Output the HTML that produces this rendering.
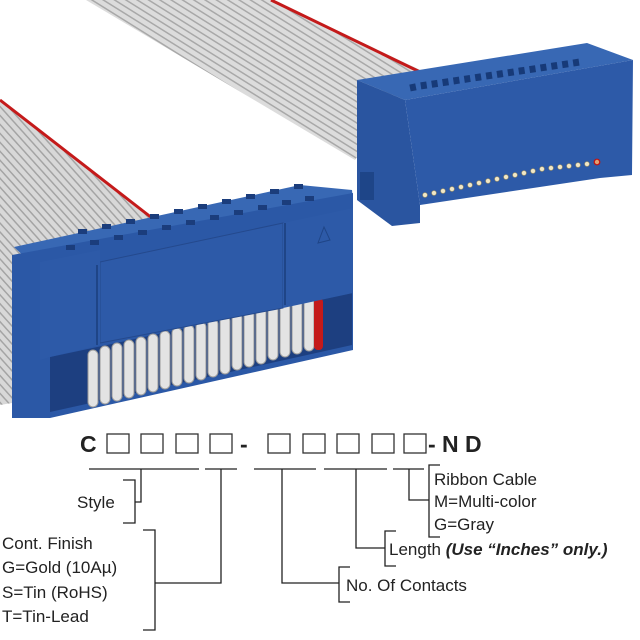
<!DOCTYPE html>
<html><head><meta charset="utf-8"><style>
html,body{margin:0;padding:0;background:#fff;width:640px;height:640px;overflow:hidden}
svg{display:block}
text{font-family:"Liberation Sans",Arial,sans-serif;fill:#222}
</style></head><body>
<svg width="640" height="640" viewBox="0 0 640 640" xmlns="http://www.w3.org/2000/svg">
<defs>
<pattern id="rib" width="6" height="6" patternUnits="userSpaceOnUse" patternTransform="rotate(-58)">
<rect width="6" height="6" fill="#dcdcdc"/><rect width="1.5" height="6" fill="#a8a8a8"/>
</pattern>
<pattern id="rib2" width="6" height="6" patternUnits="userSpaceOnUse" patternTransform="rotate(-42)">
<rect width="6" height="6" fill="#d8d8d8"/><rect width="1.5" height="6" fill="#a4a4a4"/>
</pattern>
</defs>
<!-- top ribbon -->
<polygon points="86,0,273,0,420,70,355,160" fill="url(#rib)"/>
<polyline points="271,0,420,72" stroke="#c41a1a" stroke-width="3" fill="none"/>
<!-- right connector -->
<polygon points="357,80,587,43,633,60,405,100" fill="#3868b4"/>
<polygon points="357,80,405,100,420,205,420,223,392,226,357,200" fill="#2a55a0"/>
<polygon points="405,100,633,60,632,175,600,178,420,205" fill="#2d5aa8"/>
<polyline points="410,88 420,86 440,83 460,80 480,77 500,74 520,71 540,68 560,65 580,62" stroke="#173a78" stroke-width="7" stroke-dasharray="6 5" fill="none"/>
<rect x="360" y="172" width="14" height="28" fill="#1e4588"/>
<g fill="#f1e8c8" stroke="#b09a60" stroke-width="0.6">
<circle cx="425" cy="195" r="2.3"/><circle cx="434" cy="193" r="2.3"/><circle cx="443" cy="191" r="2.3"/><circle cx="452" cy="189" r="2.3"/><circle cx="461" cy="187" r="2.3"/><circle cx="470" cy="185" r="2.3"/><circle cx="479" cy="183" r="2.3"/><circle cx="488" cy="181" r="2.3"/><circle cx="497" cy="179" r="2.3"/><circle cx="506" cy="177" r="2.3"/><circle cx="515" cy="175" r="2.3"/><circle cx="524" cy="173" r="2.3"/><circle cx="533" cy="171" r="2.3"/><circle cx="542" cy="169" r="2.3"/><circle cx="551" cy="168" r="2.3"/><circle cx="560" cy="167" r="2.3"/><circle cx="569" cy="166" r="2.3"/><circle cx="578" cy="165" r="2.3"/><circle cx="587" cy="164" r="2.3"/>
</g>
<circle cx="597" cy="162" r="2.8" fill="#e2a070" stroke="#c01010" stroke-width="1.2"/>
<!-- left ribbon -->
<polygon points="0,100,151,217,30,262,30,400,0,405" fill="url(#rib2)"/>
<polyline points="0,100,152,218" stroke="#c41a1a" stroke-width="3" fill="none"/>
<!-- left connector -->
<polygon points="14,247,300,185,352,190,353,200,30,262" fill="#3868b4"/>
<polygon points="12,255,353,193,353,350,50,418,12,418" fill="#2b58a6"/>
<polygon points="50,357,352,293,352,345,50,412" fill="#1d3f80"/>
<g fill="#e3e3e3" stroke="#9a9a9a" stroke-width="1">
<rect x="88" y="350" width="10" height="57" rx="5"/><rect x="100" y="346" width="10" height="58" rx="5"/><rect x="112" y="343" width="10" height="58" rx="5"/><rect x="124" y="340" width="10" height="58" rx="5"/><rect x="136" y="337" width="10" height="58" rx="5"/><rect x="148" y="334" width="10" height="58" rx="5"/><rect x="160" y="331" width="10" height="58" rx="5"/><rect x="172" y="328" width="10" height="58" rx="5"/><rect x="184" y="325" width="10" height="58" rx="5"/><rect x="196" y="322" width="10" height="58" rx="5"/><rect x="208" y="319" width="10" height="58" rx="5"/><rect x="220" y="316" width="10" height="58" rx="5"/><rect x="232" y="313" width="10" height="57" rx="5"/><rect x="244" y="310" width="10" height="57" rx="5"/><rect x="256" y="307" width="10" height="57" rx="5"/><rect x="268" y="304" width="10" height="56" rx="5"/><rect x="280" y="301" width="10" height="56" rx="5"/><rect x="292" y="298" width="10" height="56" rx="5"/><rect x="304" y="296" width="10" height="55" rx="5"/>
</g>
<rect x="314" y="298" width="9" height="52" rx="4" fill="#c41a1a"/>
<polygon points="100,262,283,223,283,308,100,343" fill="#2d5aa8" stroke="#24498d" stroke-width="1"/>
<polygon points="40,262,100,250,100,345,50,357,40,360" fill="#2d5aa8"/>
<polygon points="283,223,353,208,353,293,283,308" fill="#2d5aa8"/>
<line x1="97" y1="265" x2="97" y2="345" stroke="#1f4587" stroke-width="2"/>
<line x1="285" y1="223" x2="285" y2="305" stroke="#1f4587" stroke-width="2"/>
<polygon points="318,243 324,227 330,240" fill="none" stroke="#1f4587" stroke-width="1"/>
<g fill="#1b3d7c">
<rect x="66" y="245" width="9" height="5"/><rect x="90" y="240" width="9" height="5"/><rect x="114" y="235" width="9" height="5"/><rect x="138" y="230" width="9" height="5"/><rect x="162" y="225" width="9" height="5"/><rect x="186" y="220" width="9" height="5"/><rect x="210" y="215" width="9" height="5"/><rect x="234" y="210" width="9" height="5"/><rect x="258" y="205" width="9" height="5"/><rect x="282" y="200" width="9" height="5"/><rect x="305" y="196" width="9" height="5"/>
<rect x="78" y="229" width="9" height="5"/><rect x="102" y="224" width="9" height="5"/><rect x="126" y="219" width="9" height="5"/><rect x="150" y="214" width="9" height="5"/><rect x="174" y="209" width="9" height="5"/><rect x="198" y="204" width="9" height="5"/><rect x="222" y="199" width="9" height="5"/><rect x="246" y="194" width="9" height="5"/><rect x="270" y="189" width="9" height="5"/><rect x="294" y="184" width="9" height="5"/>
</g>
<!-- part number -->
<text x="80" y="452" font-size="23" font-weight="bold">C</text>
<g fill="none" stroke="#333" stroke-width="1.3">
<rect x="107" y="434" width="22" height="19"/><rect x="141" y="434" width="22" height="19"/><rect x="176" y="434" width="22" height="19"/><rect x="210" y="434" width="22" height="19"/>
<rect x="268" y="434" width="22" height="19"/><rect x="303" y="434" width="22" height="19"/><rect x="337" y="434" width="22" height="19"/><rect x="372" y="434" width="22" height="19"/><rect x="404" y="434" width="22" height="19"/>
</g>
<text x="240" y="452" font-size="23" font-weight="bold">-</text>
<text x="428" y="452" font-size="23" font-weight="bold">-</text>
<text x="442" y="452" font-size="23" font-weight="bold">N</text>
<text x="465" y="452" font-size="23" font-weight="bold">D</text>
<g stroke="#222" stroke-width="1.3" fill="none">
<line x1="89" y1="469" x2="199" y2="469"/><line x1="205" y1="469" x2="237" y2="469"/><line x1="254" y1="469" x2="316" y2="469"/><line x1="324" y1="469" x2="387" y2="469"/><line x1="393" y1="469" x2="424" y2="469"/>
<polyline points="141,469 141,502 135,502"/><polyline points="123,480 135,480 135,523 123,523"/>
<polyline points="221,469 221,583 155,583"/><polyline points="143,530 155,530 155,630 143,630"/>
<polyline points="282,469 282,583 339,583"/><polyline points="350,567 339,567 339,602 350,602"/>
<polyline points="356,469 356,548 385,548"/><polyline points="396,531 385,531 385,566 396,566"/>
<polyline points="409,469 409,500 429,500"/><polyline points="440,465 429,465 429,537 440,537"/>
</g>
<g font-size="17">
<text x="77" y="508">Style</text>
<text x="2" y="549">Cont. Finish</text>
<text x="2" y="573">G=Gold (10Aµ)</text>
<text x="2" y="598">S=Tin (RoHS)</text>
<text x="2" y="622">T=Tin-Lead</text>
<text x="346" y="591">No. Of Contacts</text>
<text x="389" y="555">Length <tspan font-weight="bold" font-style="italic">(Use “Inches” only.)</tspan></text>
<text x="434" y="485">Ribbon Cable</text>
<text x="434" y="507">M=Multi-color</text>
<text x="434" y="530">G=Gray</text>
</g>
</svg>
</body></html>
